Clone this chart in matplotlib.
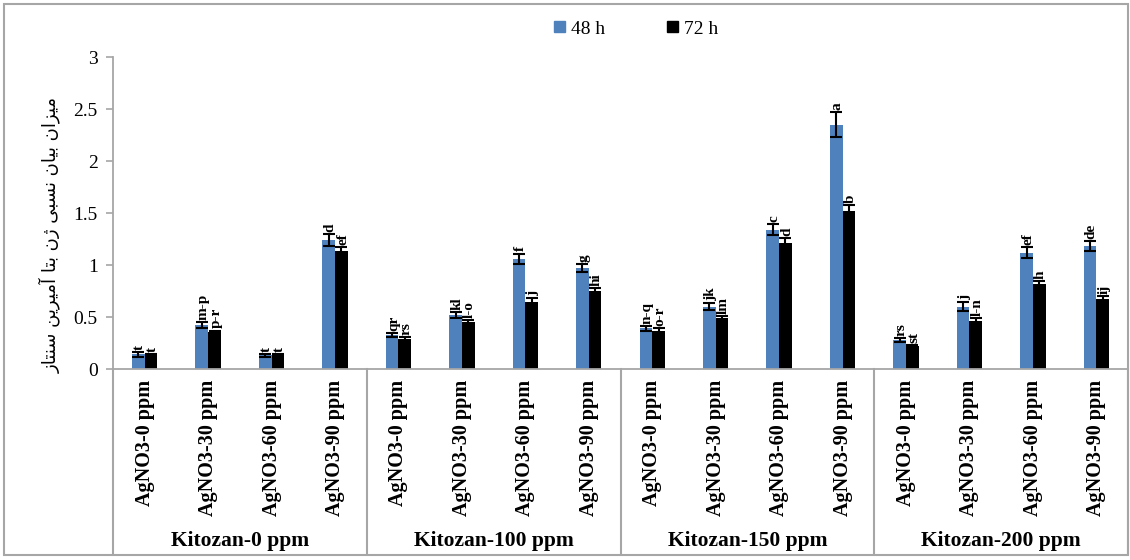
import numpy as np
import matplotlib
matplotlib.use("Agg")
import matplotlib.pyplot as plt
from matplotlib.patches import Rectangle, Patch

# ---------------- data ----------------
groups = ["Kitozan-0 ppm", "Kitozan-100 ppm", "Kitozan-150 ppm", "Kitozan-200 ppm"]
agno3 = ["AgNO3-0 ppm", "AgNO3-30 ppm", "AgNO3-60 ppm", "AgNO3-90 ppm"]
series_names = ["48 h", "72 h"]

vals_48 = [0.14, 0.42, 0.13, 1.24,
           0.33, 0.52, 1.06, 0.97,
           0.39, 0.60, 1.34, 2.35,
           0.28, 0.60, 1.12, 1.18]
vals_72 = [0.13, 0.36, 0.13, 1.13,
           0.29, 0.45, 0.64, 0.75,
           0.37, 0.49, 1.21, 1.52,
           0.22, 0.46, 0.82, 0.67]
err_48 = [0.02, 0.03, 0.01, 0.06,
          0.02, 0.03, 0.05, 0.04,
          0.02, 0.03, 0.05, 0.12,
          0.02, 0.04, 0.05, 0.05]
err_72 = [0.01, 0.01, 0.01, 0.04,
          0.02, 0.02, 0.04, 0.03,
          0.02, 0.02, 0.05, 0.06,
          0.01, 0.03, 0.03, 0.03]
letters_48 = ["t", "m-p", "t", "d",
              "qr", "kl", "f", "g",
              "n-q", "jk", "c", "a",
              "rs", "j", "ef", "de"]
letters_72 = ["t", "p-r", "t", "ef",
              "rs", "l-o", "j", "hi",
              "o-r", "lm", "d", "b",
              "st", "l-n", "h", "ij"]
y_ticks = [0, 0.5, 1, 1.5, 2, 2.5, 3]
y_label = "میزان بیان نسبی ژن بتا آمیرین سنتاز"


def shape_fa(text):
    """Minimal Persian shaping into presentation forms + visual order."""
    forms = {
        'ا': ('\uFE8D', '\uFE8E', None, None),
        'آ': ('\uFE81', '\uFE82', None, None),
        'ب': ('\uFE8F', '\uFE90', '\uFE91', '\uFE92'),
        'ت': ('\uFE95', '\uFE96', '\uFE97', '\uFE98'),
        'ر': ('\uFEAD', '\uFEAE', None, None),
        'ز': ('\uFEAF', '\uFEB0', None, None),
        'ژ': ('\uFB8A', '\uFB8B', None, None),
        'س': ('\uFEB1', '\uFEB2', '\uFEB3', '\uFEB4'),
        'م': ('\uFEE1', '\uFEE2', '\uFEE3', '\uFEE4'),
        'ن': ('\uFEE5', '\uFEE6', '\uFEE7', '\uFEE8'),
        'ی': ('\uFBFC', '\uFBFD', '\uFBFE', '\uFBFF'),
    }
    out = []
    for i, ch in enumerate(text):
        if ch not in forms:
            out.append(ch)
            continue
        prev = text[i - 1] if i > 0 else ''
        nxt = text[i + 1] if i + 1 < len(text) else ''
        jp = prev in forms and forms[prev][2] is not None
        jn = forms[ch][2] is not None and nxt in forms
        iso, fin, ini, med = forms[ch]
        if jp and jn:
            out.append(med)
        elif jp:
            out.append(fin)
        elif jn:
            out.append(ini)
        else:
            out.append(iso)
    return ''.join(reversed(out))


# ---------------- figure ----------------
plt.rcParams['font.family'] = ['Liberation Serif', 'DejaVu Serif']
W, H = 1130, 560
fig = plt.figure(figsize=(W / 100, H / 100), dpi=100)
ax = fig.add_axes([113 / W, 1 - 369 / H, (1128 - 113) / W, (369 - 57) / H])

BLUE = "#4F81BD"
GRAY = "#A6A6A6"
n = len(vals_48)
x = np.arange(n)
bw = 0.2

ax.bar(x - bw / 2, vals_48, bw, color=BLUE, label=series_names[0], zorder=2)
ax.bar(x + bw / 2, vals_72, bw, color="black", label=series_names[1], zorder=2)
ax.errorbar(x - bw / 2, vals_48, yerr=err_48, fmt='none', ecolor='black',
            elinewidth=1.5, capsize=4, capthick=1.5, zorder=3)
ax.errorbar(x + bw / 2, vals_72, yerr=err_72, fmt='none', ecolor='black',
            elinewidth=1.5, capsize=4, capthick=1.5, zorder=3)

shift = 0.02
for i in range(n):
    ax.text(x[i] - bw / 2 + shift, vals_48[i] + err_48[i] + 0.02, letters_48[i],
            rotation=90, ha='center', va='bottom', fontsize=11, fontweight='bold')
    ax.text(x[i] + bw / 2 + shift, vals_72[i] + err_72[i] + 0.02, letters_72[i],
            rotation=90, ha='center', va='bottom', fontsize=11, fontweight='bold')

ax.set_xlim(-0.5, n - 0.5)
ax.set_ylim(0, 3)
ax.set_yticks(y_ticks)
ax.set_yticklabels([f"{v:g}" for v in y_ticks], fontsize=14)
ax.set_xticks(x)
ax.set_xticklabels(agno3 * len(groups), rotation=90, fontsize=14.5,
                   fontweight='bold', va='top', ha='center')
ax.tick_params(axis='x', length=0, pad=8)
ax.tick_params(axis='y', length=5, width=1.2, color=GRAY, direction='out', pad=6)
for s in ['top', 'right']:
    ax.spines[s].set_visible(False)
for s in ['left', 'bottom']:
    ax.spines[s].set_color(GRAY)
    ax.spines[s].set_linewidth(1.3)

# group separators and labels
axh = (369 - 57)
ybot = -(554 - 369) / axh
tr = ax.get_xaxis_transform()
for b in np.arange(-0.5, n, 4):
    ax.plot([b, b], [0, ybot], transform=tr, color=GRAY, lw=1.5, clip_on=False)
for gi, g in enumerate(groups):
    ax.text(gi * 4 + 1.5, -(541 - 369) / axh, g, transform=tr, ha='center',
            va='center', fontsize=15.5, fontweight='bold')

# y label (Persian)
fig.text(50 / W, 1 - 235 / H, shape_fa(y_label), rotation=90, ha='center',
         va='center', fontsize=13, family=['DejaVu Sans'])

# legend
handles = [Patch(color=BLUE), Patch(color='black')]
fig.legend(handles, series_names, loc='center', bbox_to_anchor=(636 / W, 1 - 29 / H),
           ncol=2, frameon=False, fontsize=14, handlelength=0.55, handleheight=0.55,
           handletextpad=0.3, columnspacing=3.2)

# outer frame
fig.patches.append(Rectangle((4 / W, 1 - 555 / H), (1128 - 4) / W, (555 - 4) / H,
                             transform=fig.transFigure, fill=False,
                             edgecolor=GRAY, lw=1.5))

fig.savefig("out.png", dpi=100)
